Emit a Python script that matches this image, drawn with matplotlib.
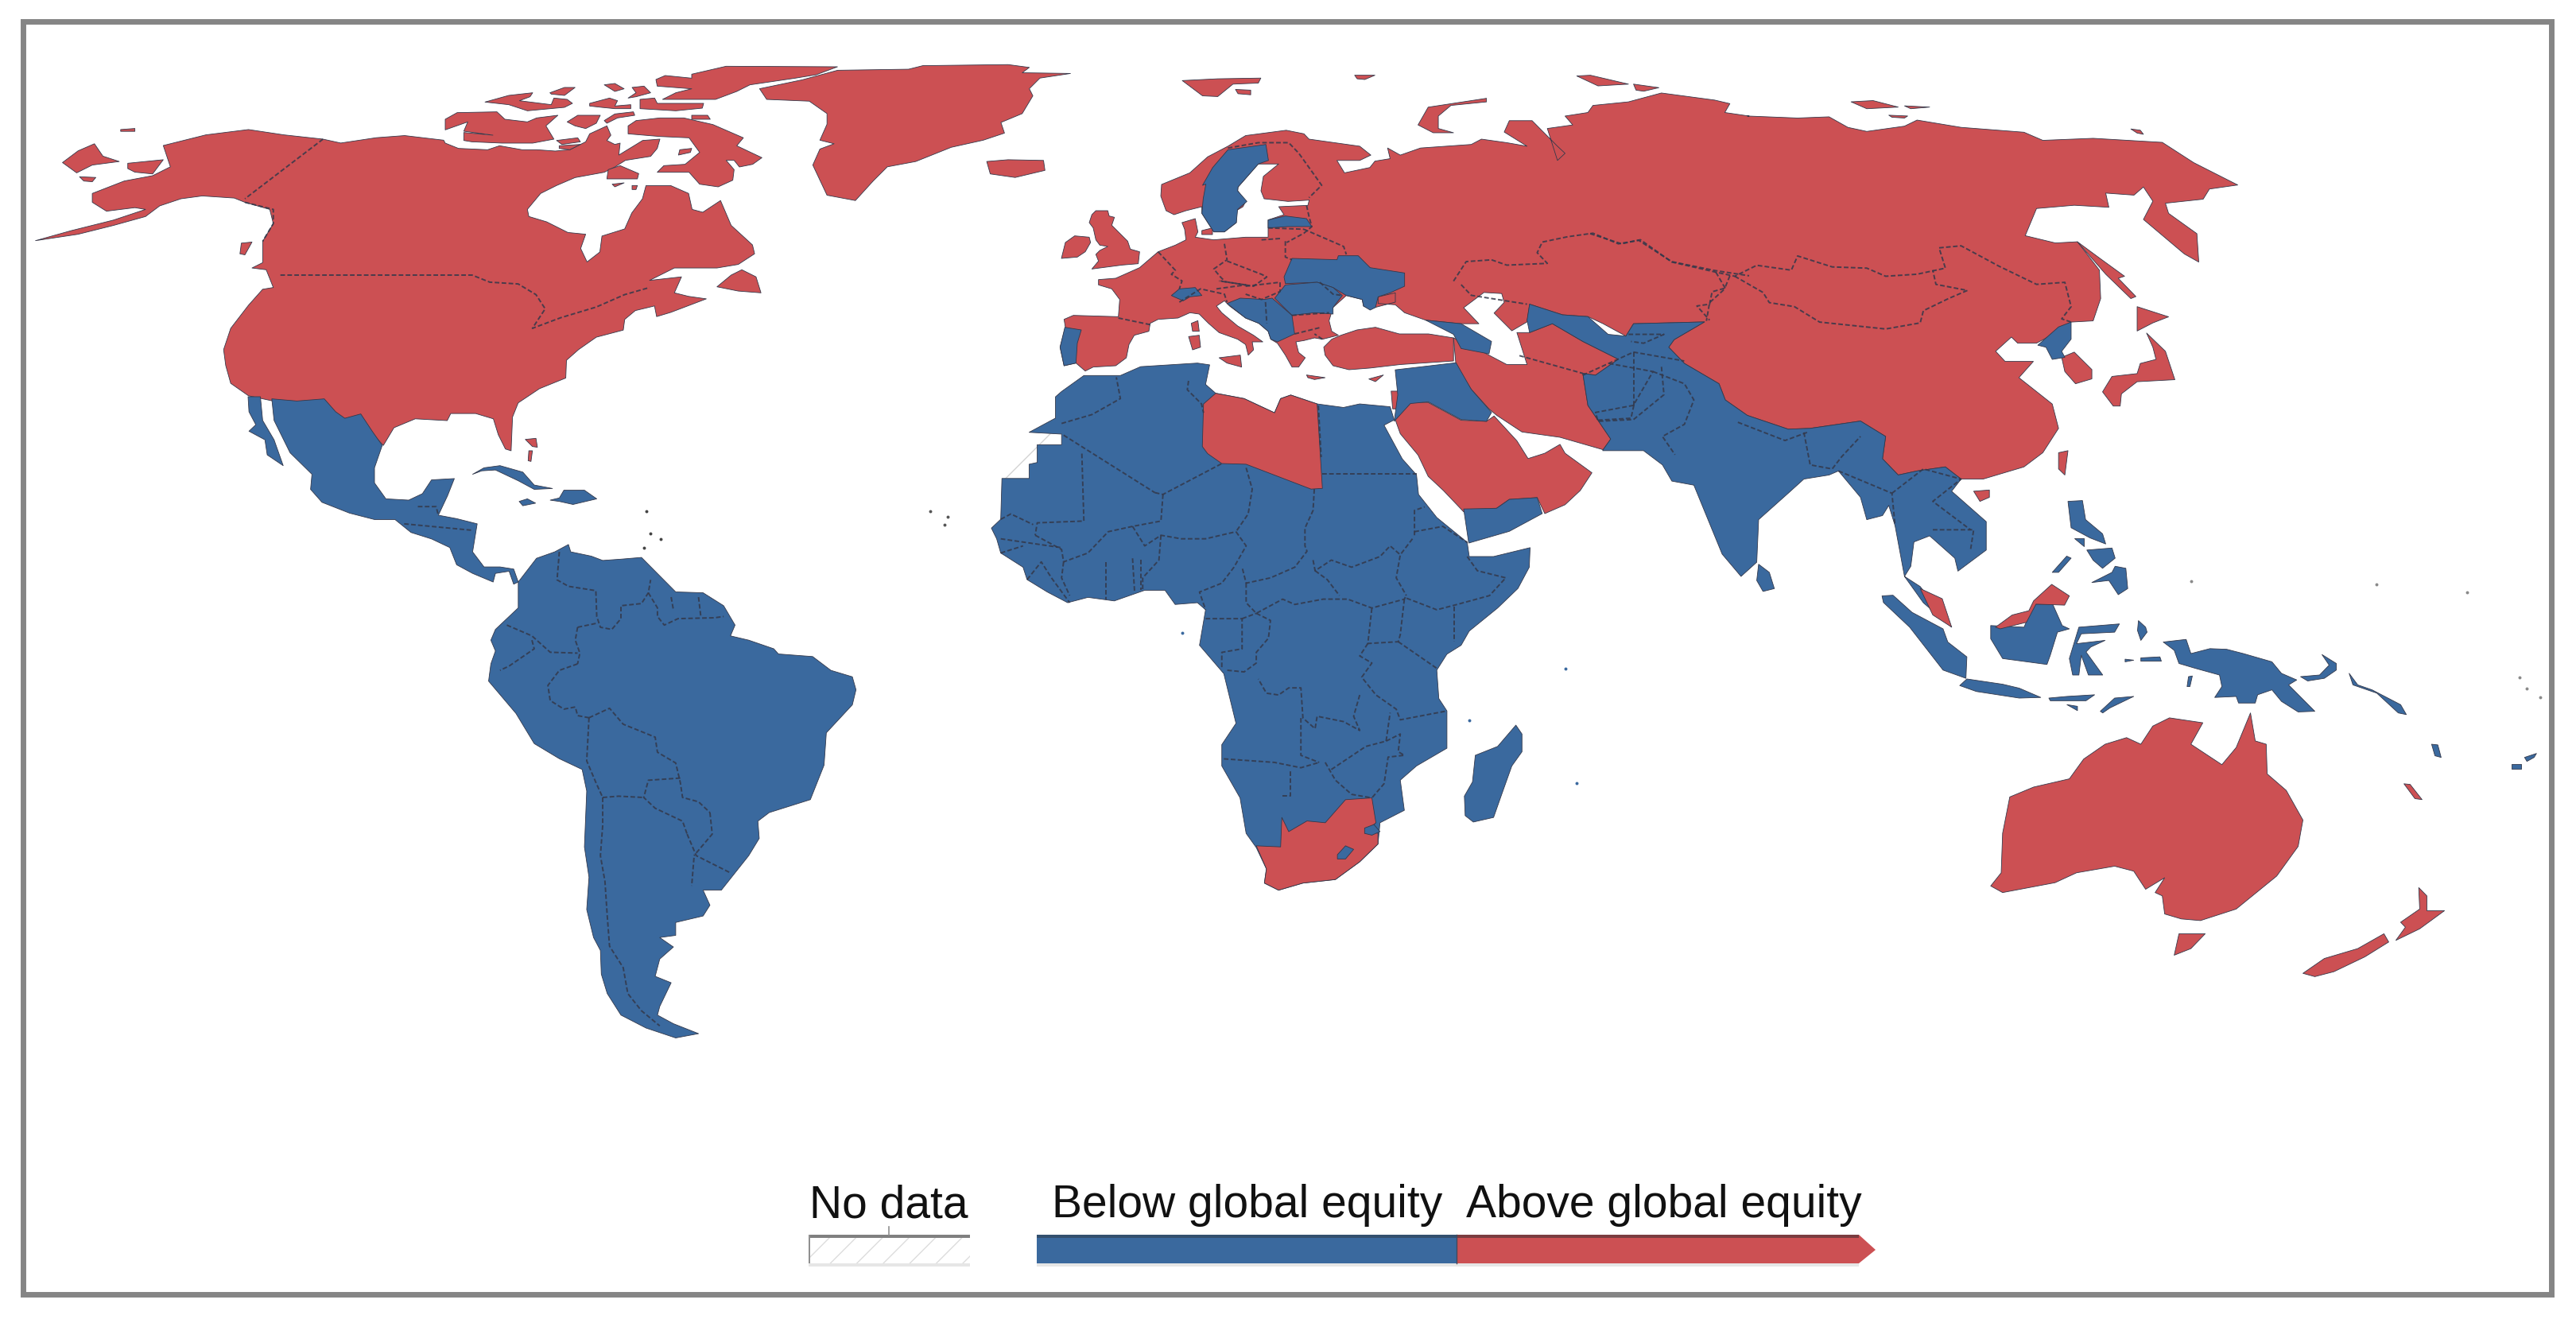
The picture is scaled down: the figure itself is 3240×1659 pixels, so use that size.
import matplotlib

matplotlib.use("Agg")
import matplotlib.pyplot as plt
from matplotlib.patches import Polygon, Rectangle

RED = "#CC5053"
BLUE = "#3A699E"
GREY = "#858585"
BORDER = "#33384a"

# Traced sheets of the map: left, top, x scale, y scale
S2 = (0, 0, 1.12, 2.24)
S3 = (1200, 50, 1.568, 2.24)
S4 = (2000, 100, 1.2645, 1.96)
S5 = (1200, 450, 1.96, 2.24)
S6 = (2300, 650, 1.668, 2.412)
S7 = (250, 480, 1.742, 1.845)
S8 = (1300, 230, 3, 3)
S9 = (560, 70, 3, 3)

legend_nodata = "No data"
legend_below = "Below global equity"
legend_above = "Above global equity"

# Red land
na_west = [(50,678),(100,650),(160,620),(205,590),(190,585),(150,595),(130,570),(130,545),(175,510),(215,495),(240,470),(230,410),(290,380),(350,365),(400,380),(455,392),(480,403),(530,388),(570,382),(625,395)]
na_arctic = [(0,330),(50,350),(160,355),(205,340),(290,355),(345,355),(415,360),(470,355),(530,325),(545,295),(610,265),(625,300),(610,320),(640,335),(660,330),(655,375),(745,320),(810,315),(800,350),(775,380),(680,395),(640,420),(600,440),(490,460),(420,490),(360,520),(310,580)]
na_east = [(745,610),(770,625),(800,655),(825,660),(818,700),(827,738),(845,710),(848,665),(880,645),(890,600),(905,560),(910,523),(945,523),(970,545),(975,590),(990,598),(1015,565),(1030,635),(1060,690),(1063,715),(1040,745),(1010,755),(950,755),(915,790),(960,780),(950,825),(970,835),(995,842),(945,880),(925,892),(922,862),(895,875),(880,900),(878,930),(840,950),(815,985),(798,1015),(797,1065),(760,1095),(730,1135),(722,1175),(720,1270),(712,1265),(702,1225),(695,1180),(670,1165),(635,1165),(630,1185),(585,1180),(555,1205),(540,1255),(510,1190),(490,1185),(465,1165),(460,1135),(430,1135),(385,1130),(350,1115),(325,1080),(318,1030),(315,985),(325,925),(350,860),(370,815),(385,810),(375,760),(355,755),(370,740),(370,680),(385,630),(380,590),(345,570),(330,558),(285,552),(255,560),(225,580),(205,610),(160,635),(110,660)]
greenland = [(1070,250),(1130,225),(1180,198),(1280,195),(1300,185),(1420,182),(1450,190),(1440,205),(1508,207),(1465,220),(1450,250),(1455,270),(1440,320),(1410,345),(1415,375),(1385,395),(1340,415),(1290,455),(1250,470),(1230,510),(1205,565),(1165,550),(1145,465),(1155,420),(1175,405),(1155,395),(1165,350),(1165,320),(1140,285),(1080,280)]
red_islands_s2 = [
    [(1390,455),(1420,450),(1470,452),(1472,480),(1430,500),(1395,490)],
    [(340,685),(355,682),(345,718),(338,715)],
    [(170,365),(190,362),(190,370),(170,370)],
    [(133,405),(145,440),(168,455),(130,465),(108,487),(88,458),(110,425)],
    [(180,460),(230,450),(215,490),(190,485),(180,475)],
    [(112,498),(135,500),(130,512),(118,510)],
    [(1045,760),(1065,780),(1072,825),(1040,820),(1010,808),(1030,775)],
    [(740,1238),(755,1235),(757,1260),(750,1258)],
    [(745,1270),(750,1270),(748,1300),(744,1298)],
]
red_islands_s9 = [
    [(0,240),(45,215),(195,212),(225,240),(310,250),(345,235),(425,225),(380,265),(410,315),(330,330),(215,330),(100,325),(70,320),(70,290),(180,300),(70,285),(85,250),(0,280)],
    [(150,175),(240,150),(330,140),(320,155),(280,170),(400,185),(410,160),(460,165),(480,180),(450,195),(310,208),(240,185)],
    [(395,140),(450,120),(490,120),(450,150),(400,145)],
    [(600,110),(640,105),(675,125),(640,135)],
    [(705,120),(750,115),(775,140),(720,155),(690,160),(720,140)],
    [(545,180),(620,160),(650,170),(640,190),(700,185),(700,200),(640,200),(590,195),(545,190)],
    [(735,165),(790,160),(800,180),(975,180),(970,198),(870,208),(735,200)],
    [(640,220),(710,212),(715,225),(650,235),(610,255),(600,245)],
    [(500,225),(585,225),(570,255),(530,275),(490,265),(460,250)],
    [(690,265),(720,245),(810,235),(900,235),(1010,260),(1125,310),(1100,340),(1195,385),(1160,410),(1110,420),(1090,395),(1060,395),(1090,430),(1085,470),(1030,495),(960,485),(920,440),(800,440),(825,415),(905,410),(960,365),(920,310),(810,305),(690,295)],
    [(930,225),(990,225),(1000,240),(930,240)],
    [(885,355),(930,350),(925,365),(880,375)],
    [(420,320),(500,310),(510,325),(440,335)],
    [(430,340),(510,335),(470,355),(430,350)],
    [(615,430),(660,415),(730,445),(725,465),(610,465)],
    [(630,485),(675,480),(640,495)],
    [(705,490),(725,490),(720,505),(705,505)],
    [(930,70),(1060,40),(1480,42),(1400,72),(1320,85),(1150,110),(1100,135),(1020,165),(820,165),(870,140),(930,125),(800,115),(795,90),(830,75),(930,85)],
]

eurasia_west = [(540,300),(575,270),(655,255),(690,265),(700,280),(800,300),(822,325),(800,340),(755,340),(770,375),(820,360),(830,342),(860,335),(855,305),(880,325),(920,305),(1020,295),(1040,280),(1090,290),(1130,300),(1085,260),(1095,228),(1140,228),(1190,300),(1205,320),(1190,340),(1170,250),(1220,240),(1205,215),(1250,205),(1260,185),(1330,175),(1395,150),(1500,170),(1530,180),(1520,205),(1568,215)]
eurasia_east = [(250,90),(330,95),(380,92),(410,118),(440,128),(500,115),(520,100),(590,118),(690,130),(720,150),(800,145),(910,155),(960,205),(1030,260),(985,270),(975,295),(915,305),(920,330),(965,380),(968,450),(945,430),(880,345),(895,300),(880,265),(865,285),(820,280),(825,315),(770,310),(710,318),(692,385),(740,403),(775,400),(810,470),(812,540),(800,595),(765,598),(740,625),(710,650),(680,650),(670,635),(645,670),(660,695),(705,695),(682,735),(735,800),(745,860),(720,920),(690,955),(625,985),(590,985),(565,955),(520,965),(490,975),(465,935),(470,880),(430,842),(350,860),(315,862),(250,828),(215,790),(205,750),(150,700),(125,660)]
eurasia_south = [(1420,845),(1480,795),(1340,800),(1325,835),(1280,800),(1250,780),(1200,775),(1135,745),(1130,795),(1100,820),(1065,770),(1085,740),(1080,715),(1045,712),(1005,755),(1035,800),(1000,800),(930,790)]
europe_coast = [(1400,490),(1365,460),(1300,455),(1300,430),(1365,415),(1365,450),(1270,475),(1245,465),(1240,440),(1180,425),(1130,470),(1115,520),(1125,560),(1150,575),(1090,590),(1060,585),(1020,595),(990,600),(1000,640),(1025,660),(1000,695),(975,695),(950,650),(920,605),(895,590),(885,560),(850,530),(800,510),(740,465),(720,445),(690,465),(710,490),(770,540),(830,575),(865,600),(825,600),(830,630),(810,650),(800,610),(770,590),(700,565),(660,530),(625,495),(590,490),(545,510),(470,515),(440,530),(435,560),(380,575),(360,610),(350,660),(310,690),(225,695),(195,710),(160,680),(115,690),(100,620),(120,545),(115,515),(150,500),(320,505),(325,440),(295,400),(245,385),(245,365),(310,360),(400,320),(470,260),(535,235),(575,215),(570,175),(560,150),(610,135),(620,185),(610,205),(680,215),(800,205),(885,205),(885,140),(945,120),(925,90),(1035,85),(1040,65),(960,70),(870,60),(858,30)]
bothnia = [(610,385),(640,350),(600,350),(560,415)]
scandinavia = [(770,30),(800,70),(790,90),(765,105),(765,150),(720,185),(680,185),(635,115),(635,90),(575,105),(530,120),(500,105),(480,50),(483,6)]
norway_north = [(465,375),(500,330)]
turkey_west = [(1095,620),(1125,590),(1160,575),(1220,555),(1290,545),(1380,570),(1490,570)]
turkey_east = [(985,840),(985,905),(880,915),(820,925)]
turkey_south = [(1190,705),(1130,690),(1100,650)]
red_islands_s3 = [
    [(985,840),(1050,885),(1090,915),(1130,915),(1110,825),(1135,825),(1180,800),(1240,850),(1310,900),(1265,945),(1240,940),(1250,1030),(1295,1125),(1280,1155),(1195,1120),(1120,1105),(1070,1058),(1055,1040),(1020,985),(990,920)],
    [(870,1070),(900,1020),(935,1022),(1000,1072),(1050,1075),(1065,1060),(1110,1130),(1132,1180),(1165,1165),(1195,1140),(1205,1165),(1258,1220),(1235,1270),(1205,1310),(1165,1335),(1150,1290),(1095,1295),(1070,1320),(1005,1330),(965,1270),(935,1230),(915,1170),(880,1110)],
    [(862,990),(878,990),(875,1040),(865,1040)],
    [(450,115),(520,110),(605,108),(600,122),(550,125),(520,160),(490,158)],
    [(555,140),(585,142),(585,155),(560,152)],
    [(790,100),(830,100),(810,112),(795,110)],
    [(1228,102),(1255,100),(1330,125),(1270,130)],
    [(1340,125),(1390,135),(1360,145),(1345,142)],
    [(915,240),(935,190),(1050,165),(1050,175),(980,185),(955,215),(955,250),(985,262),(945,262)],
]
red_islands_s8 = [
    [(220,120),(235,105),(280,105),(285,125),(305,130),(295,160),(325,190),(355,220),(365,250),(400,260),(395,305),(335,310),(220,325),(245,295),(235,270),(250,255),(280,240),(250,235),(235,215),(225,170),(210,150)],
    [(120,225),(155,200),(210,205),(215,225),(195,260),(165,280),(105,285)],
    [(635,180),(675,170),(675,195),(635,195)],
    [(1030,725),(1100,735),(1060,742),(1035,735)],
    [(1265,740),(1320,725),(1290,750)],
    [(595,530),(620,520),(625,560),(600,560)],
    [(585,580),(625,575),(630,620),(600,630)],
    [(700,660),(780,650),(785,695),(730,680)],
]
red_islands_s4 = [
    [(415,55),(450,52),(490,68),(440,72)],
    [(500,65),(540,68),(510,72)],
    [(475,88),(505,90),(500,95),(480,93)],
    [(860,122),(875,125),(880,135),(870,132)],
    [(610,1015),(635,1012),(635,1030),(620,1040)],
    [(745,920),(760,915),(755,975),(745,960)],
    [(750,685),(770,672),(798,715),(798,738),(772,750),(755,720)],
    [(870,560),(920,585),(895,600),(870,620)],
    [(885,625),(915,670),(930,740),(870,745),(845,775),(843,805),(832,805),(815,770),(830,732),(870,725),(875,700),(900,690),(895,660)],
    [(775,400),(810,440),(850,485),(840,490),(868,535),(860,540),(820,480)],
]
malaya = [(525,1255),(560,1280),(575,1350),(545,1320)]
libya = [(615,130),(645,100),(715,115),(790,155),(805,115),(830,105),(895,130),(908,368),(880,370),(720,300),(660,298),(625,270),(612,250)]
south_africa = [(745,1375),(805,1378),(808,1295),(825,1335),(870,1305),(915,1310),(965,1245),(1030,1240),(1040,1310),(1020,1330),(1045,1340),(1045,1370),(1000,1420),(940,1470),(860,1480),(800,1500),(765,1480),(770,1440)]
sarawak = [(350,335),(385,298),(420,285),(430,255),(468,205),(505,240),(495,268),(435,265),(415,320),(360,340)]
red_s6 = [
    [(340,1120),(362,1080),(365,960),(380,850),(430,820),(505,795),(535,735),(580,690),(625,670),(655,690),(680,635),(715,610),(785,625),(760,690),(825,752),(855,700),(885,595),(895,680),(918,690),(920,780),(960,830),(995,920),(985,1000),(940,1090),(855,1190),(780,1225),(740,1220),(705,1205),(700,1150),(685,1140),(705,1095),(665,1130),(640,1075),(600,1060),(520,1080),(475,1110),(365,1140)],
    [(735,1265),(790,1265),(760,1310),(725,1330)],
    [(995,1385),(1040,1340),(1110,1310),(1165,1265),(1175,1290),(1125,1335),(1060,1380),(1020,1395)],
    [(1238,1125),(1255,1150),(1255,1195),(1292,1195),(1240,1250),(1190,1285),(1210,1245),(1200,1230),(1240,1190)],
    [(1207,810),(1220,812),(1245,858),(1230,855)],
]

# Blue land
mexico_central = [(160,40),(215,45),(275,40),(300,70),(320,85),(355,75),(380,115),(402,148),(385,200),(385,235),(410,272),(460,275),(490,260),(510,228),(560,225),(545,265),(525,310),(565,318),(610,330),(600,395),(625,430),(660,430),(690,435),(700,465),(690,470),(680,440),(650,445),(645,465),(600,445),(565,425),(550,385),(510,365),(465,350),(430,320),(385,320),(330,305),(270,280),(245,250),(248,215),(200,165),(165,90)]
south_america = [(700,465),(740,410),(780,395),(810,378),(815,395),(860,405),(885,415),(925,412),(970,408),(1000,440),(1045,488),(1105,490),(1150,520),(1175,565),(1165,590),(1205,600),(1260,620),(1270,632),(1345,638),(1385,670),(1432,685),(1440,715),(1432,750),(1375,815),(1370,890),(1340,970),(1250,1000),(1225,1020),(1228,1060),(1205,1100),(1175,1140),(1145,1180),(1105,1180),(1120,1215),(1105,1240),(1045,1255),(1045,1285),(1010,1290),(1040,1312),(1010,1340),(1000,1380),(1035,1395),(1010,1450),(1005,1470),(1040,1490),(1095,1513),(1045,1523),(980,1500),(925,1470),(895,1420),(882,1375),(880,1320),(865,1290),(850,1225),(855,1150),(845,1080),(850,950),(840,900),(790,875),(735,840),(695,770),(635,695),(640,655),(650,625),(640,600),(650,575),(700,525)]
blue_s7 = [
    [(108,35),(135,35),(140,90),(165,135),(185,195),(150,170),(145,135),(110,115),(125,100),(110,70)],
    [(600,215),(625,200),(660,195),(710,210),(735,240),(775,248),(735,250),(700,230),(650,205),(620,207)],
    [(770,275),(790,270),(800,252),(845,252),(872,272),(820,285),(790,278)],
    [(702,278),(720,272),(738,282),(710,288)],
]
africa = [(185,210),(250,170),(250,110),(265,95),(320,50),(410,50),(460,25),(600,15),(630,20),(620,75),(645,100),(715,115),(790,155),(805,115),(830,105),(895,130),(960,140),(1000,130),(1075,138),(1085,175),(1060,190),(1105,285),(1140,330),(1145,385),(1190,450),(1265,520),(1270,560),(1330,560),(1420,535),(1418,590),(1390,650),(1340,705),(1270,770),(1250,810),(1215,835),(1190,880),(1195,960),(1215,995),(1215,1100),(1140,1150),(1100,1190),(1110,1275),(1050,1310),(1045,1370),(1000,1420),(940,1470),(860,1480),(800,1500),(765,1480),(770,1440),(745,1380),(720,1340),(705,1240),(660,1150),(660,1090),(695,1030),(680,960),(665,890),(605,810),(620,710),(600,690),(545,695),(520,655),(470,655),(395,685),(330,675),(280,690),(230,660),(180,625),(170,590),(115,550),(105,510),(92,480),(115,455),(118,340),(185,340),(185,300),(205,295),(205,245),(265,245),(265,215)]
western_sahara = [(185,210),(265,215),(265,245),(205,245),(205,295),(185,300),(185,340),(105,340),(120,290)]
lesotho = [(945,1400),(965,1375),(985,1385),(965,1412),(945,1412)]
swaziland = [(1012,1325),(1035,1315),(1050,1335),(1030,1345),(1012,1340)]
madagascar = [(1385,1035),(1400,1060),(1400,1110),(1375,1150),(1350,1230),(1330,1295),(1280,1308),(1260,1290),(1258,1235),(1278,1195),(1285,1120),(1340,1095)]
sweden_north = [(540,310),(615,295),(620,340),(600,350),(560,415)]
sweden_south = [(770,30),(805,70),(770,100),(765,150),(720,185),(680,185),(635,115),(640,60),(650,5)]
sweden_west = [(490,410),(510,360)]
blue_s8 = [
    [(885,140),(950,125),(1030,135),(1050,165),(960,165),(885,170)],
    [(975,285),(1145,290),(1150,275),(1225,275),(1270,320),(1400,340),(1400,390),(1345,415),(1300,430),(1290,470),(1270,480),(1245,465),(1240,440),(1180,425),(1130,395),(1070,375),(950,380),(945,355)],
    [(950,385),(1070,375),(1130,395),(1165,425),(1130,470),(1130,495),(1060,490),(975,500),(910,435)],
    [(730,455),(780,435),(870,440),(900,435),(975,500),(985,570),(920,600),(895,590),(885,560),(850,530),(800,510)],
    [(118,545),(180,555),(165,605),(160,680),(115,690),(100,620)],
    [(520,425),(550,400),(610,395),(635,425),(590,430),(565,445),(530,430)],
]
blue_s3 = [
    [(930,790),(1000,800),(1060,850),(1055,885),(1000,870),(985,830)],
    [(870,930),(990,910),(1020,985),(1060,1050),(1050,1075),(1000,1070),(935,1020),(900,1025),(868,1075),(875,1000)],
    [(1005,1322),(1070,1320),(1095,1295),(1150,1290),(1160,1335),(1095,1385),(1015,1418)],
]
south_asia_north = [(1135,745),(1200,775),(1250,780),(1290,830),(1325,835),(1340,800),(1480,795),(1420,845)]
south_asia_east = [(125,660),(150,700),(205,750),(215,790),(250,828),(315,862),(350,860),(430,842),(470,880),(465,935),(490,975),(520,965),(565,955),(590,985),(575,1015),(630,1090),(630,1160),(585,1212),(580,1180),(540,1125),(515,1140),(510,1200),(500,1225),(525,1250),(575,1350),(530,1290),(500,1225),(485,1100),(475,1050),(465,1075),(440,1085),(430,1030),(395,965),(380,975),(340,985),(315,1020),(268,1085),(265,1190),(240,1225),(210,1170),(165,1000),(130,990),(115,950),(85,915),(20,915)]
south_asia_west = [(1280,1155),(1295,1125),(1250,1030),(1240,940),(1265,945),(1310,900),(1240,850),(1180,800),(1135,825),(1130,790)]
blue_s4 = [
    [(268,1195),(285,1215),(293,1255),(275,1262),(265,1235)],
    [(712,655),(745,610),(765,598),(765,640),(750,670),(755,685),(735,690),(725,660)],
    [(760,1040),(783,1038),(788,1085),(815,1120),(820,1145),(795,1130),(765,1105)],
    [(770,1130),(785,1130),(785,1150)],
    [(790,1160),(830,1155),(835,1180),(815,1205),(800,1185)],
    [(798,1240),(830,1215),(835,1200),(852,1205),(855,1255),(840,1270),(825,1235)],
    [(735,1215),(758,1175),(765,1180),(745,1215)],
]
blue_s6 = [
    [(112,240),(135,238),(175,290),(240,340),(250,380),(290,425),(288,490),(240,465),(205,400),(170,335),(115,260)],
    [(275,512),(290,492),(365,508),(400,520),(445,548),(400,550),(310,530)],
    [(462,550),(500,545),(558,540),(540,558),(465,558)],
    [(500,570),(522,575),(522,588)],
    [(570,590),(600,550),(640,545),(590,580),(575,595)],
    [(340,330),(410,335),(430,265),(470,265),(490,330),(505,340),(480,350),(465,420),(458,448),(365,430),(340,370)],
    [(525,335),(610,325),(600,350),(530,355),(520,385),(580,375),(550,395),(540,410),(575,480),(545,480),(530,420),(525,480),(512,480),(505,430)],
    [(650,315),(665,335),(668,350),(655,375),(648,345)],
    [(622,432),(640,435),(622,440)],
    [(655,428),(695,425),(698,438),(655,438)],
    [(702,380),(750,372),(760,415),(800,400),(835,402),(870,415),(930,440),(950,475),(982,495),(965,510),(1020,590),(985,592),(950,560),(930,525),(900,540),(895,565),(860,565),(855,545),(810,548),(825,515),(820,480),(770,460),(735,445),(725,405)],
    [(990,485),(1030,480),(1050,450),(1035,418),(1065,445),(1065,465),(1040,490),(1005,498)],
    [(1092,475),(1110,510),(1140,525),(1200,570),(1212,600),(1195,595),(1150,535),(1100,510)],
    [(755,485),(763,483),(758,515),(752,515)],
    [(1265,690),(1278,692),(1285,730),(1272,725)],
    [(1432,750),(1452,750),(1452,765),(1432,765)],
    [(1460,730),(1485,718),(1480,730),(1465,742)],
]

# Country borders
borders_s2 = [
    [(455,392),(345,560)],
    [(345,570),(385,590),(385,630),(370,680)],
    [(395,775),(665,775),(690,795),(730,800),(755,830),(768,870),(750,925),(790,895),(840,865),(880,830),(915,810)],
]
borders_s5 = [
    [(265,185),(340,160),(410,115),(400,55)],
    [(270,218),(495,380)],
    [(315,270),(320,460),(205,465),(200,500)],
    [(115,455),(140,440),(195,470)],
    [(578,65),(575,90),(610,130),(615,155)],
    [(495,380),(515,385),(660,298)],
    [(720,310),(735,370),(725,440),(695,490)],
    [(515,385),(510,460),(440,475),(380,490),(330,550),(270,575)],
    [(200,500),(265,540),(270,575)],
    [(440,475),(470,530),(510,500),(560,510),(620,510),(695,490)],
    [(510,500),(505,570),(465,620),(465,655)],
    [(695,490),(720,530),(690,590),(660,635),(605,660),(620,710)],
    [(888,370),(885,430),(865,480),(865,530),(870,545),(840,590),(780,620),(720,635),(710,590)],
    [(898,135),(905,280)],
    [(908,327),(1140,327)],
    [(1135,500),(1135,430),(1160,420)],
    [(1135,490),(1205,475),(1265,520)],
    [(1130,510),(1100,555),(1090,620),(1115,670)],
    [(885,570),(890,600),(930,570),(980,590),(1050,560),(1075,530),(1100,555)],
    [(890,600),(920,625),(950,670)],
    [(720,635),(720,690),(745,720),(810,680),(840,695),(910,680),(970,680),(1030,705),(1110,680),(1115,670)],
    [(1265,560),(1290,600),(1360,620),(1320,670),(1240,695),(1190,710),(1110,675)],
    [(1232,700),(1232,800)],
    [(1095,800),(1190,875)],
    [(1110,680),(1100,780),(1095,800),(1020,805),(1030,705)],
    [(1020,805),(1000,840),(1030,860),(1005,900),(1040,950),(1090,990),(1100,1020),(1215,995)],
    [(1000,950),(985,1010),(1000,1050),(960,1025),(895,1010),(890,1045),(860,1015),(855,930),(825,930),(800,950),(770,945),(750,905)],
    [(745,720),(780,740),(775,790),(745,830),(745,860),(715,885),(670,880)],
    [(620,735),(710,735),(710,820),(660,830),(660,875)],
    [(710,735),(745,720)],
    [(855,1015),(855,1120),(900,1140)],
    [(665,1130),(790,1140),(855,1155),(900,1140)],
    [(810,1235),(830,1235),(830,1160)],
    [(930,1160),(1015,1095),(1065,1080),(1075,1000)],
    [(1065,1080),(1100,1060),(1095,1110),(1110,1120),(1070,1125),(1060,1200),(1030,1240)],
    [(915,1140),(940,1190),(980,1230),(1030,1240)],
    [(115,510),(205,525),(265,535)],
    [(115,550),(170,530)],
    [(180,625),(215,575),(240,620),(285,690)],
    [(270,575),(265,620),(285,670)],
    [(375,575),(375,680)],
    [(440,565),(445,660)],
    [(460,570),(460,655)],
]
borders_s3 = [
    [(540,305),(600,290),(660,290),(680,320),(725,410),(700,445)],
    [(985,680),(1010,625),(1060,620),(1090,635),(1170,630),(1150,600),(1160,570),(1210,555),(1260,545),(1310,575),(1350,565),(1415,625),(1500,650),(1568,665)],
    [(1000,690),(1020,720),(1130,745)],
    [(1530,665),(1520,700),(1495,710),(1490,745),(1465,750),(1490,790)],
    [(1330,830),(1400,830),(1360,855),(1335,850)],
    [(1240,945),(1340,880),(1440,905)],
    [(1340,1030),(1265,1050),(1270,1075),(1340,1070),(1400,1000),(1395,920)],
    [(1340,880),(1340,1030)],
    [(1115,890),(1240,940)],
]
borders_s8 = [
    [(320,510),(440,535)],
    [(470,260),(535,330),(520,345),(560,370),(550,400)],
    [(720,230),(730,290),(680,325),(705,355),(720,370)],
    [(730,295),(860,345),(880,355),(830,390),(705,370)],
    [(690,400),(800,385),(700,370)],
    [(800,390),(930,375),(930,410),(860,440),(800,420)],
    [(550,450),(630,400),(720,420),(730,450)],
    [(950,220),(950,280),(975,290)],
    [(1020,175),(1170,240),(1180,270)],
    [(1030,85),(1040,130),(1050,165),(1020,190),(955,225)],
    [(885,170),(1020,175)],
    [(860,215),(930,210)],
    [(975,500),(1115,490)],
    [(985,570),(1085,545)],
    [(1090,590),(1060,570)],
    [(1080,375),(1130,420),(1165,425)],
    [(875,450),(880,530)],
]
borders_s4 = [
    [(0,380),(50,405),(80,395),(130,450),(200,475),(230,485),(265,458),(320,470),(330,435),(385,462),(440,465),(470,485),(520,480),(565,465),(555,415),(590,410),(650,460),(710,505),(755,500),(765,560),(750,590),(765,598)],
    [(200,475),(215,515),(190,550),(185,595)],
    [(230,485),(275,525),(285,550),(325,560),(365,598),(470,615),(525,600),(530,570),(570,540),(600,520),(550,505),(545,470)],
    [(100,720),(150,750),(165,790),(150,850),(115,880),(135,925)],
    [(30,700),(100,720),(70,800),(65,835),(10,840)],
    [(340,870),(350,950),(385,960),(400,930),(430,880)],
    [(395,965),(480,1020),(485,1100)],
    [(480,1020),(530,960),(590,985),(545,1040),(605,1110)],
    [(545,1110),(610,1110),(605,1160)],
    [(235,845),(310,890),(345,870)],
]
borders_s7 = [
    [(790,395),(785,460),(810,475),(870,485),(872,545),(880,570),(905,575),(925,550),(925,520),(970,515),(985,490),(990,460)],
    [(830,570),(875,560)],
    [(985,490),(1005,525),(1005,545),(1020,565),(1050,550),(1130,548),(1150,545)],
    [(1035,500),(1040,530)],
    [(1095,500),(1100,545)],
    [(830,570),(825,600),(835,630),(830,655)],
    [(675,565),(730,590),(770,628),(830,630)],
    [(730,600),(735,620),(680,660),(660,670)],
    [(830,655),(790,670),(765,705),(770,740),(800,760),(825,755),(830,775),(855,780)],
    [(855,780),(850,880),(870,930),(885,965)],
    [(855,780),(900,758),(930,795),(1000,825),(1005,860),(1045,885),(1055,930),(1060,965),(1095,975),(1120,1000)],
    [(1055,920),(985,925),(975,965),(1000,990),(1060,1020),(1070,1050)],
    [(885,965),(920,962),(975,965)],
    [(885,965),(885,1030),(880,1100),(890,1160),(895,1240),(900,1310),(930,1360),(940,1420),(970,1460),(1010,1495)],
    [(1070,1050),(1090,1100),(1165,1140)],
    [(1085,1105),(1080,1170)],
    [(1120,1000),(1125,1050),(1085,1100)],
    [(480,290),(520,290),(525,310)],
    [(450,330),(600,345)],
]

# Tiny islands
dots_s6 = [(760,195),(1150,205),(1340,230),(1450,487),(1465,520),(1493,547)]
dots_s5 = [(1535,1198),(1270,1022),(1508,876),(563,775)]
dots_s2 = [(1310,1440),(1335,1455),(1330,1478)]
dots_s7 = [(975,385),(990,352),(1012,365),(980,300)]


def trace(sheet, pts):
    x0, y0, sx, sy = sheet
    return [(x0 + x / sx, y0 + y / sy) for x, y in pts]


def land(ax, pts, color, zorder=2):
    ax.add_patch(Polygon(pts, closed=True, facecolor=color, edgecolor=BORDER,
                         linewidth=0.6, joinstyle="round", zorder=zorder))


plt.rcParams["hatch.linewidth"] = 1.0
fig = plt.figure(figsize=(32.4, 16.59), dpi=100)
ax = fig.add_axes([0, 0, 1, 1])
ax.set_xlim(0, 3240)
ax.set_ylim(1659, 0)
ax.axis("off")

# Red base
land(ax, trace(S2, na_west) + trace(S9, na_arctic) + trace(S2, na_east), RED)
land(ax, trace(S2, greenland), RED)
for poly in red_islands_s2:
    land(ax, trace(S2, poly), RED)
for poly in red_islands_s9:
    land(ax, trace(S9, poly), RED)
eurasia = (trace(S3, eurasia_west) + trace(S4, eurasia_east) + trace(S3, eurasia_south)
           + trace(S8, europe_coast) + trace(S3, bothnia) + trace(S8, scandinavia)
           + trace(S3, norway_north))
land(ax, eurasia, RED)
land(ax, trace(S8, turkey_west) + trace(S3, turkey_east) + trace(S8, turkey_south), RED)
for poly in red_islands_s3:
    land(ax, trace(S3, poly), RED)
for poly in red_islands_s8:
    land(ax, trace(S8, poly), RED)
for poly in red_islands_s4:
    land(ax, trace(S4, poly), RED)
for poly in red_s6:
    land(ax, trace(S6, poly), RED)

# Blue on top
land(ax, trace(S7, mexico_central), BLUE, 3)
land(ax, trace(S7, south_america), BLUE, 3)
for poly in blue_s7:
    land(ax, trace(S7, poly), BLUE, 3)
land(ax, trace(S5, africa), BLUE, 3)
land(ax, trace(S5, madagascar), BLUE, 3)
land(ax, trace(S3, sweden_north) + trace(S8, sweden_south) + trace(S3, sweden_west), BLUE, 3)
for poly in blue_s8:
    land(ax, trace(S8, poly), BLUE, 3)
for poly in blue_s3:
    land(ax, trace(S3, poly), BLUE, 3)
land(ax, trace(S3, south_asia_north) + trace(S4, south_asia_east) + trace(S3, south_asia_west), BLUE, 3)
for poly in blue_s4:
    land(ax, trace(S4, poly), BLUE, 3)
for poly in blue_s6:
    land(ax, trace(S6, poly), BLUE, 3)

# Red pieces inside the blue
land(ax, trace(S5, libya), RED, 4)
land(ax, trace(S5, south_africa), RED, 4)
land(ax, trace(S4, malaya), RED, 4)
land(ax, trace(S6, sarawak), RED, 4)
land(ax, trace(S5, lesotho), BLUE, 5)
land(ax, trace(S5, swaziland), BLUE, 5)

ax.add_patch(Polygon(trace(S5, western_sahara), closed=True, facecolor="white",
                     edgecolor="#d4d4d4", hatch="/", linewidth=0, zorder=2))

all_borders = [(S2, borders_s2), (S3, borders_s3), (S4, borders_s4),
               (S5, borders_s5), (S7, borders_s7), (S8, borders_s8)]
for sheet, lines in all_borders:
    for line in lines:
        xy = trace(sheet, line)
        ax.plot([p[0] for p in xy], [p[1] for p in xy], color=BORDER, alpha=0.85,
                linewidth=1.4, linestyle=(0, (3, 1.5)), zorder=6)

for sheet, dots, c in [(S6, dots_s6, "#8a8a8a"), (S5, dots_s5, BLUE), (S2, dots_s2, "#555555"), (S7, dots_s7, "#444444")]:
    xy = trace(sheet, dots)
    ax.scatter([p[0] for p in xy], [p[1] for p in xy], s=8, color=c, linewidths=0, zorder=6)

# Frame
ax.add_patch(Rectangle((28.5, 27), 3180, 1601, fill=False, edgecolor=GREY, linewidth=5, zorder=7))

# Legend
ax.add_patch(Rectangle((1017, 1589), 203, 3.5, facecolor="#e6e6e6", edgecolor="none", zorder=7))
ax.add_patch(Rectangle((1017, 1553), 203, 36, facecolor="white", edgecolor="#dcdcdc", hatch="/", linewidth=0, zorder=7))
ax.add_patch(Rectangle((1017, 1553), 203, 3.5, facecolor="#808080", edgecolor="none", zorder=8))
ax.add_patch(Rectangle((1017, 1553), 1.5, 36, facecolor="#909090", edgecolor="none", zorder=8))
ax.plot([1118, 1118], [1543, 1553], color="#909090", linewidth=1.2, zorder=8)

ax.add_patch(Rectangle((1304, 1589), 1034, 3.5, facecolor="#e6e6e6", edgecolor="none", zorder=7))
ax.add_patch(Rectangle((1304, 1553), 528, 36, facecolor=BLUE, edgecolor="none", zorder=7))
ax.add_patch(Polygon([(1832, 1553), (2338, 1553), (2359, 1572), (2338, 1589), (1832, 1589)],
                     closed=True, facecolor=RED, edgecolor="none", zorder=7))
ax.add_patch(Rectangle((1304, 1553), 528, 3.5, facecolor="#33506f", edgecolor="none", zorder=8))
ax.add_patch(Rectangle((1832, 1553), 506, 3.5, facecolor="#7a3c40", edgecolor="none", zorder=8))
ax.plot([1832, 1832], [1553, 1589], color="#44485a", linewidth=1.0, zorder=8)

text_style = dict(family="Liberation Sans", fontsize=41, color="#111111", va="baseline", zorder=9)
ax.text(1118, 1531, legend_nodata, ha="center", **text_style)
ax.text(1569, 1531, legend_below, ha="center", **text_style)
ax.text(2093, 1531, legend_above, ha="center", **text_style)

fig.savefig("out.png", dpi=100, facecolor="white")
